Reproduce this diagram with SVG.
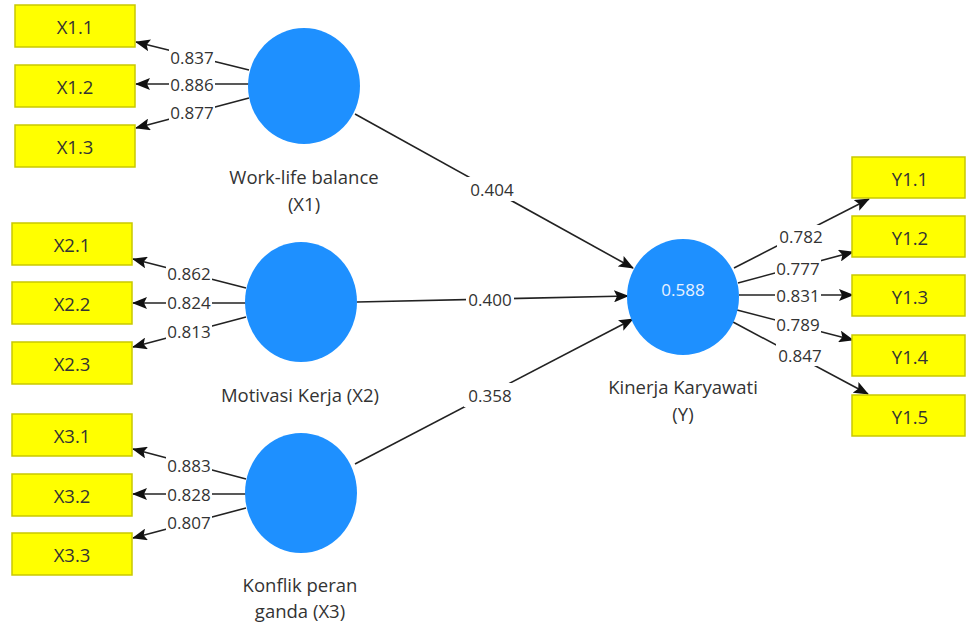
<svg xmlns="http://www.w3.org/2000/svg" width="967" height="625" viewBox="0 0 967 625">
<defs>
<marker id="arr" viewBox="0 0 15 12" refX="14" refY="6" markerWidth="15" markerHeight="12" markerUnits="userSpaceOnUse" orient="auto">
<path d="M0,0 L15,6 L0,12 L3,6 z" fill="#111"/>
</marker>
<style>
.box{fill:#ffff00;stroke:#c9c900;stroke-width:1.5}
.lat{fill:#1e90ff}
.bt{font-family:"Open Sans","Noto Sans",sans-serif;font-size:18.5px;fill:#333;text-anchor:middle;dominant-baseline:central}
.nl{font-family:"Open Sans","Noto Sans",sans-serif;font-size:18.5px;fill:#333;text-anchor:middle}
.w{font-family:"Open Sans","Noto Sans",sans-serif;font-size:17px;fill:#333;text-anchor:middle;dominant-baseline:central}
.bg{fill:#fff}
.c{stroke:#222;stroke-width:1.6;fill:none;marker-end:url(#arr)}
</style>
</defs>
<rect width="967" height="625" fill="#fff"/>

<g id="connectors">
<line class="c" x1="249" y1="70" x2="136" y2="42"/>
<line class="c" x1="249" y1="84" x2="136" y2="84"/>
<line class="c" x1="249" y1="98" x2="136" y2="128"/>
<line class="c" x1="246" y1="288" x2="133" y2="259"/>
<line class="c" x1="246" y1="303" x2="133" y2="303"/>
<line class="c" x1="246" y1="317" x2="133" y2="347"/>
<line class="c" x1="246" y1="479" x2="133" y2="449"/>
<line class="c" x1="246" y1="494" x2="133" y2="494"/>
<line class="c" x1="246" y1="508" x2="133" y2="538"/>
<line class="c" x1="355" y1="114" x2="633" y2="268"/>
<line class="c" x1="357" y1="302" x2="628" y2="296"/>
<line class="c" x1="355" y1="464" x2="633" y2="319"/>
<line class="c" x1="734" y1="268" x2="869" y2="199"/>
<line class="c" x1="738" y1="283" x2="853" y2="252"/>
<line class="c" x1="739" y1="295" x2="853" y2="295"/>
<line class="c" x1="737" y1="310" x2="853" y2="340"/>
<line class="c" x1="733" y1="322" x2="868" y2="394"/>
<rect class="bg" x="169" y="48" width="46" height="18"/><text class="w" x="192" y="57">0.837</text>
<rect class="bg" x="169" y="75" width="46" height="18"/><text class="w" x="192" y="84">0.886</text>
<rect class="bg" x="169" y="103" width="46" height="18"/><text class="w" x="192" y="112">0.877</text>
<rect class="bg" x="166" y="264" width="46" height="18"/><text class="w" x="189" y="273">0.862</text>
<rect class="bg" x="166" y="293" width="46" height="18"/><text class="w" x="189" y="302">0.824</text>
<rect class="bg" x="166" y="322" width="46" height="18"/><text class="w" x="189" y="331">0.813</text>
<rect class="bg" x="166" y="456" width="46" height="18"/><text class="w" x="189" y="465">0.883</text>
<rect class="bg" x="166" y="485" width="46" height="18"/><text class="w" x="189" y="494">0.828</text>
<rect class="bg" x="166" y="513" width="46" height="18"/><text class="w" x="189" y="522">0.807</text>
<rect class="bg" x="466" y="177" width="52" height="24"/><text class="w" x="492" y="189">0.404</text>
<rect class="bg" x="466" y="289" width="48" height="20"/><text class="w" x="490" y="299">0.400</text>
<rect class="bg" x="464" y="383" width="52" height="24"/><text class="w" x="490" y="395">0.358</text>
<rect class="bg" x="777" y="225" width="48" height="22"/><text class="w" x="801" y="236">0.782</text>
<rect class="bg" x="775" y="259" width="46" height="18"/><text class="w" x="798" y="268">0.777</text>
<rect class="bg" x="775" y="286" width="46" height="18"/><text class="w" x="798" y="295">0.831</text>
<rect class="bg" x="775" y="315" width="46" height="18"/><text class="w" x="798" y="324">0.789</text>
<rect class="bg" x="776" y="344" width="48" height="22"/><text class="w" x="800" y="355">0.847</text>
</g>

<g id="X1.1"><rect class="box" x="15" y="5" width="120" height="42"/><text class="bt" x="75" y="26">X1.1</text></g>
<g id="X1.2"><rect class="box" x="15" y="65" width="120" height="42"/><text class="bt" x="75" y="86">X1.2</text></g>
<g id="X1.3"><rect class="box" x="15" y="125" width="120" height="42"/><text class="bt" x="75" y="146">X1.3</text></g>
<g id="X2.1"><rect class="box" x="12" y="223" width="120" height="42"/><text class="bt" x="72" y="244">X2.1</text></g>
<g id="X2.2"><rect class="box" x="12" y="282" width="120" height="42"/><text class="bt" x="72" y="303">X2.2</text></g>
<g id="X2.3"><rect class="box" x="12" y="342" width="120" height="42"/><text class="bt" x="72" y="363">X2.3</text></g>
<g id="X3.1"><rect class="box" x="12" y="414" width="120" height="42"/><text class="bt" x="72" y="435">X3.1</text></g>
<g id="X3.2"><rect class="box" x="12" y="474" width="120" height="42"/><text class="bt" x="72" y="495">X3.2</text></g>
<g id="X3.3"><rect class="box" x="12" y="533" width="120" height="42"/><text class="bt" x="72" y="554">X3.3</text></g>
<g id="Y1.1"><rect class="box" x="852" y="157" width="113" height="41"/><text class="bt" x="910" y="178">Y1.1</text></g>
<g id="Y1.2"><rect class="box" x="852" y="216" width="113" height="41"/><text class="bt" x="910" y="237">Y1.2</text></g>
<g id="Y1.3"><rect class="box" x="852" y="275" width="113" height="41"/><text class="bt" x="910" y="296">Y1.3</text></g>
<g id="Y1.4"><rect class="box" x="852" y="335" width="113" height="41"/><text class="bt" x="910" y="356">Y1.4</text></g>
<g id="Y1.5"><rect class="box" x="852" y="395" width="113" height="41"/><text class="bt" x="910" y="416">Y1.5</text></g>

<g id="X1"><ellipse class="lat" cx="304" cy="86" rx="56" ry="58"/><text class="nl" x="304" y="184">Work-life balance</text><text class="nl" x="304" y="211">(X1)</text></g>
<g id="X2"><ellipse class="lat" cx="301" cy="302" rx="56" ry="60"/><text class="nl" x="300" y="402">Motivasi Kerja (X2)</text></g>
<g id="X3"><ellipse class="lat" cx="301" cy="493" rx="56" ry="60"/><text class="nl" x="300" y="592">Konflik peran</text><text class="nl" x="300" y="618">ganda (X3)</text></g>
<g id="Y"><ellipse class="lat" cx="683" cy="297" rx="56" ry="58"/><text class="bt" x="683" y="289" style="fill:#e8f2ff;font-size:17px">0.588</text><text class="nl" x="683" y="394">Kinerja Karyawati</text><text class="nl" x="683" y="421">(Y)</text></g>
</svg>
